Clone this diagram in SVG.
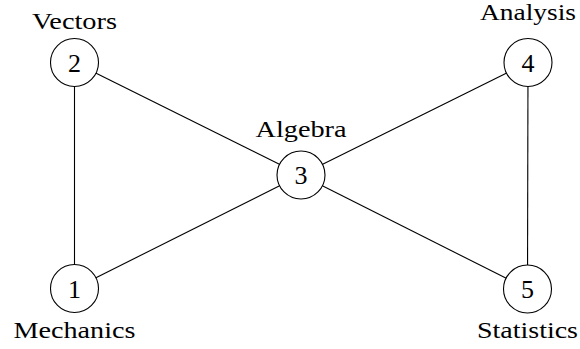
<svg xmlns="http://www.w3.org/2000/svg" width="580" height="349" viewBox="0 0 580 349">
<style>
.n{fill:#fff;stroke:#000;stroke-width:1.1}
.e{stroke:#000;stroke-width:1.1;fill:none}
text{font-family:"Liberation Serif","DejaVu Serif",serif;font-size:24px;fill:#000;text-anchor:middle}
.d{font-size:26px}
</style>
<rect width="580" height="349" fill="#fff"/>
<g id="edges">
<line class="e" x1="74.5" y1="62.5" x2="74.5" y2="288.5"/>
<line class="e" x1="74.5" y1="62.5" x2="301" y2="175"/>
<line class="e" x1="74.5" y1="288.5" x2="301" y2="175"/>
<line class="e" x1="528" y1="62.5" x2="301" y2="175"/>
<line class="e" x1="527.5" y1="289" x2="301" y2="175"/>
<line class="e" x1="528" y1="62.5" x2="527.5" y2="289"/>
</g>
<g id="node1"><circle class="n" cx="74.5" cy="288.5" r="24"/><text class="d" x="74.5" y="297.5">1</text><text x="74.5" y="338" textLength="122" lengthAdjust="spacingAndGlyphs">Mechanics</text></g>
<g id="node2"><circle class="n" cx="74.5" cy="62.5" r="24"/><text class="d" x="74.5" y="71.5">2</text><text x="74.5" y="29" textLength="85" lengthAdjust="spacingAndGlyphs">Vectors</text></g>
<g id="node3"><circle class="n" cx="301" cy="175" r="24"/><text class="d" x="301" y="184">3</text><text x="301" y="137" textLength="91" lengthAdjust="spacingAndGlyphs">Algebra</text></g>
<g id="node4"><circle class="n" cx="528" cy="62.5" r="24"/><text class="d" x="528" y="71.5">4</text><text x="528" y="19.5" textLength="96" lengthAdjust="spacingAndGlyphs">Analysis</text></g>
<g id="node5"><circle class="n" cx="527.5" cy="289" r="24"/><text class="d" x="527.5" y="298">5</text><text x="527.5" y="338" textLength="101" lengthAdjust="spacingAndGlyphs">Statistics</text></g>
</svg>
